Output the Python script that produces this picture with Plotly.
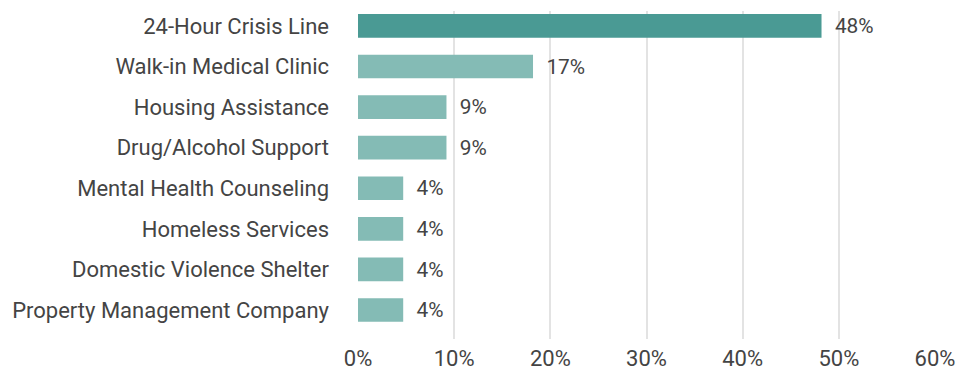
import plotly.graph_objects as go

categories = ["24-Hour Crisis Line", "Walk-in Medical Clinic", "Housing Assistance",
              "Drug/Alcohol Support", "Mental Health Counseling", "Homeless Services",
              "Domestic Violence Shelter", "Property Management Company"]
values = [48.2, 18.2, 9.2, 9.2, 4.7, 4.7, 4.7, 4.7]
labels = ["48%", "17%", "9%", "9%", "4%", "4%", "4%", "4%"]
colors = ["#4a9a94"] + ["#84bbb5"] * 7
x_ticks = [0, 10, 20, 30, 40, 50, 60]
x_ticktext = ["0%", "10%", "20%", "30%", "40%", "50%", "60%"]

FONT = "Roboto"
TXT = "#444444"
FS = 22

fig = go.Figure(go.Bar(
    y=list(range(len(categories))),
    x=values,
    orientation="h",
    marker=dict(color=colors, line=dict(width=0)),
    width=0.584,
    text=["\u00a0\u00a0" + t for t in labels],
    textposition="outside",
    textfont=dict(family=FONT, size=FS, color=TXT),
    cliponaxis=False,
    hoverinfo="skip",
))

fig.update_layout(
    width=961, height=371,
    margin=dict(l=358, r=26, t=11, b=32, autoexpand=False),
    paper_bgcolor="white", plot_bgcolor="white",
    showlegend=False,
    font=dict(family=FONT, size=FS, color=TXT),
    xaxis=dict(range=[0, 60], tickvals=x_ticks, ticktext=x_ticktext,
               showgrid=True, gridcolor="#e3e3e3", gridwidth=2,
               zeroline=False, showline=False, ticks="", automargin=False,
               ticklabelstandoff=4,
               tickfont=dict(family=FONT, size=FS, color=TXT)),
    yaxis=dict(range=[7.714, -0.367], tickvals=list(range(len(categories))),
               ticktext=categories, showgrid=False, zeroline=False,
               showline=False, ticks="", ticklabelstandoff=28, automargin=False,
               tickfont=dict(family=FONT, size=FS, color=TXT)),
)

fig.write_html("out.html")
